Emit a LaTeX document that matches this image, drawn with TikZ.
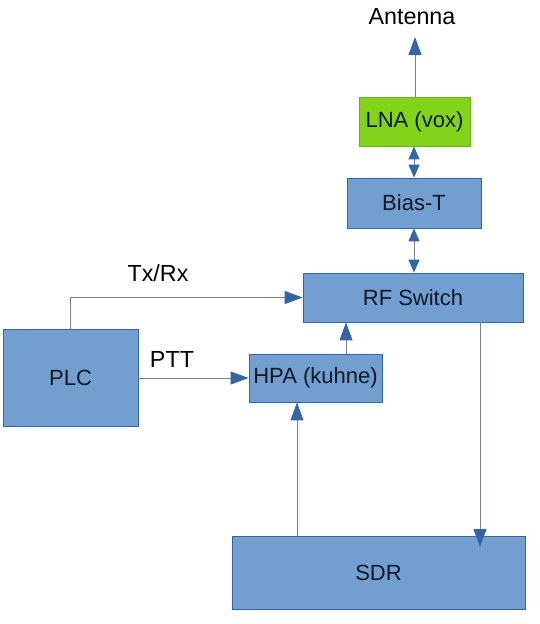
\documentclass[tikz,border=0pt]{standalone}
\usepackage{fontspec}
\setmainfont{Liberation Sans}
\usetikzlibrary{arrows.meta,calc}
\definecolor{boxblue}{HTML}{729FCF}
\definecolor{boxedge}{HTML}{3465A4}
\definecolor{lnagreen}{HTML}{81D41A}
\definecolor{lnaedge}{HTML}{6AAE1A}
\definecolor{wire}{HTML}{77808C}
\definecolor{tipblue}{HTML}{3465A4}
\definecolor{txt}{HTML}{101828}
\begin{document}
\begin{tikzpicture}[x=1pt,y=-1pt,
  blk/.style={draw=boxedge,fill=boxblue,line width=0.8pt,inner sep=0pt,
    font=\fontsize{22}{25}\selectfont,text=txt,anchor=center},
  lbl/.style={font=\fontsize{23.3}{26}\selectfont,text=black,inner sep=0pt},
  wr/.style={draw=wire,line width=0.9pt},
  arr/.style={wr,-{Triangle[length=18pt,width=13pt,color=tipblue]}},
  darr/.style={wr,{Triangle[length=13pt,width=11pt,color=tipblue]}-{Triangle[length=13pt,width=11pt,color=tipblue]}},
]
\useasboundingbox (0,0) rectangle (540,624);
\fill[white] (0,0) rectangle (540,624);
\node[blk,draw=lnaedge,fill=lnagreen,minimum width=111pt,minimum height=49pt] (lna) at (414.5,121.5) {LNA (vox)};
\node[blk,minimum width=134pt,minimum height=50pt] (bias) at (414,203) {Bias-T};
\node[blk,minimum width=220pt,minimum height=49pt] (rf) at (413,297.5) {RF Switch};
\node[blk,minimum width=135pt,minimum height=97pt] (plc) at (70.5,377.5) {PLC};
\node[blk,minimum width=133pt,minimum height=48pt] (hpa) at (315.5,378) {HPA (kuhne)};
\node[blk,minimum width=293pt,minimum height=73pt] (sdr) at (378.5,572.5) {SDR};
\node[lbl] (ant) at (412,17) {Antenna};
\node[lbl] (txrx) at (158,273) {Tx/Rx};
\node[lbl] (ptt) at (172,359) {PTT};
\coordinate (antpt) at (415,37);
\coordinate (sdrin) at (480,547);
% connectors
\draw[arr] (lna.north -| antpt) -- (antpt);
\draw[darr] ([xshift=-0.5pt]lna.south) -- (bias.north);
\draw[darr] (bias.south) -- (bias.south |- rf.north);
\draw[arr] ([xshift=-67.5pt]plc.north east) |- (rf.west);
\draw[arr] (plc.east |- hpa.west) -- (hpa.west);
\draw[arr] ([xshift=30.5pt]hpa.north) -- ([xshift=30.5pt]hpa.north |- rf.south);
\draw[arr] ([xshift=-81.5pt]sdr.north) -- ([xshift=-81.5pt]sdr.north |- hpa.south);
\draw[arr] (rf.south -| sdrin) -- (sdrin);
\end{tikzpicture}
\end{document}
